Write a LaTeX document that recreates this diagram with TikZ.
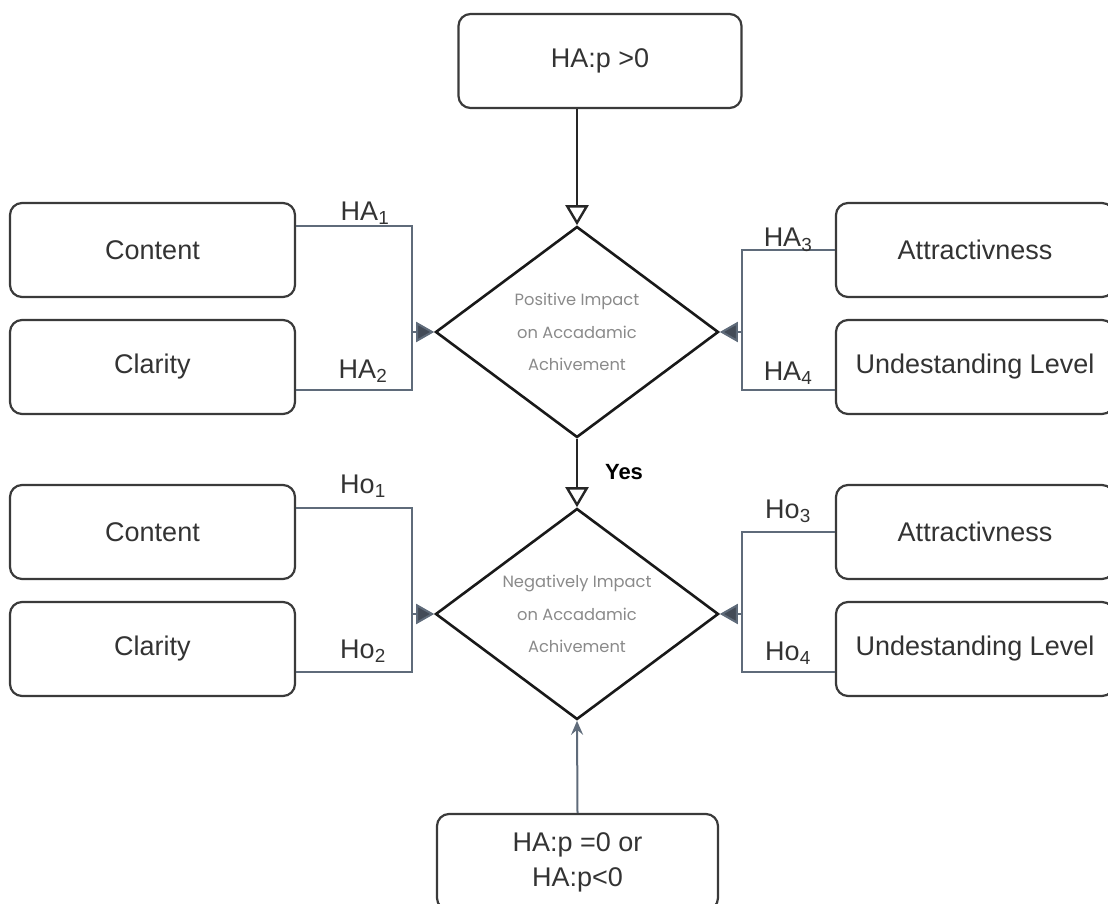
\documentclass[tikz,border=0pt]{standalone}
\usepackage{fontspec}
\setmainfont{Liberation Sans}
\newfontfamily\diafont{Poppins}
\usetikzlibrary{shapes.geometric,arrows.meta,positioning}
\definecolor{borde}{HTML}{3A3A3A}
\definecolor{texto}{HTML}{333333}
\definecolor{enlace}{HTML}{5F6B7A}
\definecolor{punta}{HTML}{434B57}
\definecolor{gris}{HTML}{8A8A8A}

\begin{document}
\begin{tikzpicture}[x=1pt,y=1pt,
  factor/.style={draw=borde,line width=2.2pt,rounded corners=12pt,minimum width=285pt,minimum height=94pt,
    text=texto,font=\fontsize{27}{32}\selectfont,align=center},
  decision/.style={shape=diamond,aspect=1.34,draw=black!90,line width=2.6pt,minimum width=283pt,minimum height=211pt,
    inner sep=-6pt,text=gris,align=center,font=\diafont\fontsize{16.3}{32.5}\selectfont},
  link/.style={draw=enlace,line width=2pt},
  feed/.style={link,-{Triangle[width=20pt,length=18pt,fill=punta]}},
  flow/.style={draw=black!85,line width=2.4pt,-{Triangle[open,width=23pt,length=20pt,fill=white]}},
  tag/.style={text=texto,font=\fontsize{27}{27}\selectfont,anchor=base,inner sep=0pt}]
\useasboundingbox (0,0) rectangle (1108,-904);

\node[factor,minimum width=283pt] (hapos) at (600,-61) {HA:p >0};
\node[decision] (d1) at (577,-332) {Positive Impact\\on Accadamic\\Achivement};
\node[decision] (d2) at (577,-614) {Negatively Impact\\on Accadamic\\Achivement};
\node[factor,minimum width=281pt,minimum height=96pt,font=\fontsize{27}{35}\selectfont] (hazero) at (577.5,-862) {HA:p =0 or\\HA:p<0};

\node[factor] (content1) at (152.5,-250) {Content};
\node[factor] (clarity1) at (152.5,-367) {Clarity};
\node[factor,minimum width=278pt] (attract1) at (975,-250) {Attractivness};
\node[factor,minimum width=278pt] (under1) at (975,-367) {Undestanding Level};
\node[factor] (content2) at (152.5,-532) {Content};
\node[factor] (clarity2) at (152.5,-649) {Clarity};
\node[factor,minimum width=278pt] (attract2) at (975,-532) {Attractivness};
\node[factor,minimum width=278pt] (under2) at (975,-649) {Undestanding Level};

\coordinate (lbus1) at (412,-332);
\coordinate (rbus1) at (742,-332);
\coordinate (lbus2) at (412,-614);
\coordinate (rbus2) at (742,-614);

% main flow
\draw[flow] (hapos.south -| d1.north) -- (d1.north);
\draw[flow] (d1.south) -- (d2.north);
\node[font=\bfseries\fontsize{22}{22}\selectfont] (yes) at (624,-472) {Yes};
\draw[link,-{Stealth[length=14pt,width=12pt,inset=5pt]}] (hazero.north) -- (d2.south);

% hypothesis links, first level
\draw[link] ([yshift=24pt]content1.east) -| (lbus1) |- ([yshift=-23pt]clarity1.east);
\draw[feed] (lbus1) -- (d1.west);
\draw[link] (attract1.west) -| (rbus1) |- ([yshift=-23pt]under1.west);
\draw[feed] (rbus1) -- (d1.east);
\node[tag] (ha1) at (365,-220) {HA\textsubscript{1}};
\node[tag] (ha2) at (363,-378) {HA\textsubscript{2}};
\node[tag] (ha3) at (788,-247) {HA\textsubscript{3}};
\node[tag] (ha4) at (788,-380) {HA\textsubscript{4}};

% hypothesis links, second level
\draw[link] ([yshift=24pt]content2.east) -| (lbus2) |- ([yshift=-23pt]clarity2.east);
\draw[feed] (lbus2) -- (d2.west);
\draw[link] (attract2.west) -| (rbus2) |- ([yshift=-23pt]under2.west);
\draw[feed] (rbus2) -- (d2.east);
\node[tag] (ho1) at (363,-493) {Ho\textsubscript{1}};
\node[tag] (ho2) at (363,-658) {Ho\textsubscript{2}};
\node[tag] (ho3) at (788,-518) {Ho\textsubscript{3}};
\node[tag] (ho4) at (788,-660) {Ho\textsubscript{4}};
\end{tikzpicture}
\end{document}
